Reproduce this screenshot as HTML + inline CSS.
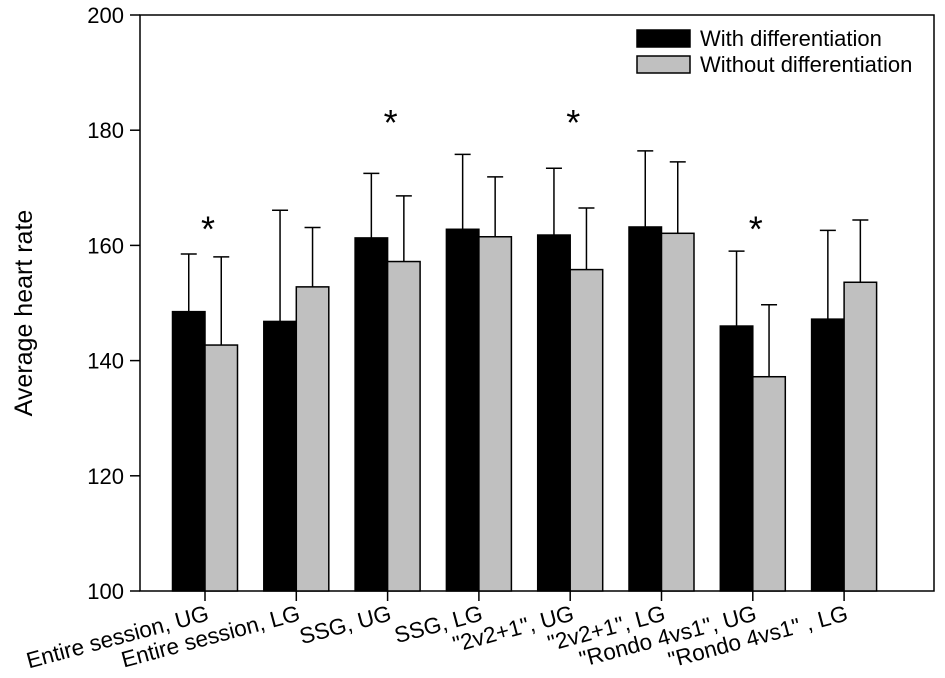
<!DOCTYPE html>
<html><head><meta charset="utf-8"><style>body{margin:0;background:#fff}svg{display:block;font-family:"Liberation Sans",Arial,sans-serif}</style></head>
<body>
<svg id="chart" width="945" height="678" viewBox="0 0 945 678" xmlns="http://www.w3.org/2000/svg"></svg>
<script>
const categories = ['Entire session, UG','Entire session, LG','SSG, UG','SSG, LG','"2v2+1", UG','"2v2+1", LG','"Rondo 4vs1", UG','"Rondo 4vs1" , LG'];
const withValues = [148.5,146.8,161.3,162.8,161.8,163.2,146.0,147.2];
const withErrors = [10.0,19.3,11.2,13.0,11.6,13.2,13.0,15.4];
const withoutValues = [142.7,152.8,157.2,161.5,155.8,162.1,137.2,153.6];
const withoutErrors = [15.3,10.3,11.4,10.4,10.7,12.4,12.5,10.8];
const asteriskLevels = [164.5,null,183,null,183,null,164.5,null];
const yTicks = [100,120,140,160,180,200];

const NS='http://www.w3.org/2000/svg';
const svg=document.getElementById('chart');
const L=140,R=934,T=15,B=591,yMin=100,yMax=200;
const y=v=>B-(v-yMin)/(yMax-yMin)*(B-T);
const xc=i=>205+i*91.3;
const bw=32.5;
function mk(tag,attrs,parent){const e=document.createElementNS(NS,tag);for(const k in attrs)e.setAttribute(k,attrs[k]);(parent||svg).appendChild(e);return e;}

const frame=mk('rect',{x:L,y:T,width:R-L,height:B-T,fill:'none',stroke:'#000','stroke-width':1.5});



yTicks.forEach(t=>{
  const ln=mk('line',{x1:L-10,x2:L,y1:y(t),y2:y(t),stroke:'#000','stroke-width':1.5});
  
  
  const tx=mk('text',{x:L-16,y:y(t)+8,'text-anchor':'end','font-size':22});
  tx.textContent=t;
  
  
});
const yt=mk('text',{transform:'translate(32,313) rotate(-90)','text-anchor':'middle','font-size':25});
yt.textContent='Average heart rate';



function bar(x,v,e,fill,name){
  const ev=mk('line',{x1:x+bw/2,x2:x+bw/2,y1:y(v),y2:y(v+e),stroke:'#000','stroke-width':1.5});
  
  
  const cap=mk('line',{x1:x+bw/2-8,x2:x+bw/2+8,y1:y(v+e),y2:y(v+e),stroke:'#000','stroke-width':1.5});
  
  
  const r=mk('rect',{x:x,y:y(v),width:bw,height:B-y(v),fill:fill,stroke:'#000','stroke-width':1.5});
  
  
}
categories.forEach((c,i)=>{
  const cx=xc(i);
  bar(cx-bw,withValues[i],withErrors[i],'#000','bar-with-differentiation');
  bar(cx,withoutValues[i],withoutErrors[i],'#c0c0c0','bar-without-differentiation');
  const tk=mk('line',{x1:cx,x2:cx,y1:B,y2:B+10,stroke:'#000','stroke-width':1.5});
  
  
  const lb=mk('text',{transform:`translate(${cx+5},${620}) rotate(-15)`,'text-anchor':'end','font-size':22.5});
  lb.textContent=c;
  
  
  if(asteriskLevels[i]!==null){
    const s=mk('text',{x:cx+3,y:y(asteriskLevels[i])+22,'text-anchor':'middle','font-size':36});
    s.textContent='*';
    
    
  }
});
[['With differentiation','#000',30],['Without differentiation','#c0c0c0',56]].forEach(([t,f,yy])=>{
  const r=mk('rect',{x:637,y:yy,width:53,height:17,fill:f,stroke:'#000','stroke-width':1.5});
  
  
  const tx=mk('text',{x:700,y:yy+16,'font-size':22});
  tx.textContent=t;
  
  
});
</script>
</body></html>
